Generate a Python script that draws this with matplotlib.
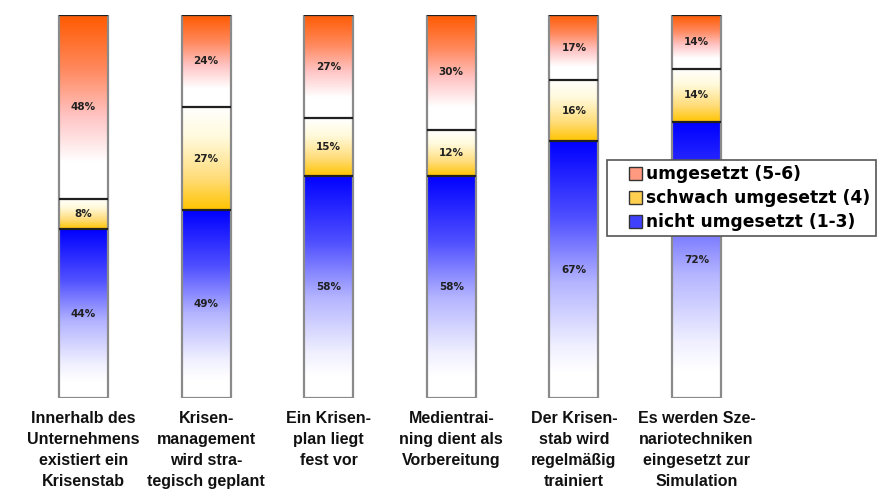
import numpy as np
import matplotlib.pyplot as plt
from matplotlib.colors import LinearSegmentedColormap
from matplotlib.patches import Rectangle
from matplotlib.legend_handler import HandlerPatch

categories = [
    "Innerhalb des\nUnternehmens\nexistiert ein\nKrisenstab",
    "Krisen-\nmanagement\nwird stra-\ntegisch geplant",
    "Ein Krisen-\nplan liegt\nfest vor",
    "Medientrai-\nning dient als\nVorbereitung",
    "Der Krisen-\nstab wird\nregelmäßig\ntrainiert",
    "Es werden Sze-\nnariotechniken\neingesetzt zur\nSimulation",
]
nicht = [44, 49, 58, 58, 67, 72]
schwach = [8, 27, 15, 12, 16, 14]
umgesetzt = [48, 24, 27, 30, 17, 14]
series_labels = ["umgesetzt (5-6)", "schwach umgesetzt (4)", "nicht umgesetzt (1-3)"]

# gradients, listed from top of segment to bottom
cm_top = LinearSegmentedColormap.from_list("top", [
    (0.0, "#ff5a00"), (0.3, "#ff8a60"), (0.55, "#ffc4c4"), (0.8, "#ffffff"), (1.0, "#ffffff")])
cm_mid = LinearSegmentedColormap.from_list("mid", [
    (0.0, "#ffffff"), (0.3, "#fffadc"), (0.7, "#ffdc78"), (1.0, "#ffc400")])
cm_bot = LinearSegmentedColormap.from_list("bot", [
    (0.0, "#0000ff"), (0.3, "#5050ff"), (0.55, "#b4b4ff"), (0.8, "#f0f0ff"), (0.9, "#ffffff"),
    (1.0, "#ffffff")])


def square(legend, orig_handle, xdescent, ydescent, width, height, fontsize):
    s = height
    return Rectangle((-xdescent + width - s, -ydescent + (height - s) / 2), s, s)


fig = plt.figure(figsize=(8.81, 4.92), dpi=100)
ax = fig.add_axes([0, 0.191, 1, 0.7785])
ax.axis("off")

w = 0.40
grad = np.linspace(0, 1, 256).reshape(-1, 1)
x = np.arange(len(categories))

for i in x:
    segs = [(0, nicht[i], cm_bot), (nicht[i], nicht[i] + schwach[i], cm_mid),
            (nicht[i] + schwach[i], 100, cm_top)]
    for y0, y1, cm in segs:
        ax.imshow(cm(grad), extent=[i - w / 2, i + w / 2, y0, y1], aspect="auto",
                  interpolation="bilinear", origin="upper", zorder=1)
        ax.hlines(y1, i - w / 2, i + w / 2, color="#202020", lw=1.6, zorder=3)
        ax.text(i, (y0 + y1) / 2, f"{y1 - y0:.0f}%", ha="center", va="center",
                fontsize=7.5, fontweight="bold", color="#202020", zorder=4)
    ax.add_patch(Rectangle((i - w / 2, 0), w, 100, fill=False, edgecolor="#8a8a8a",
                           lw=1.6, zorder=2))
    ax.text(i, -3.4, categories[i], ha="center", va="top", fontsize=11.5,
            fontweight="bold", family="Liberation Sans", linespacing=1.5, color="#111111")

ax.set_xlim(-0.681, 6.505)
ax.set_ylim(0, 100)

handles = [Rectangle((0, 0), 1, 1, facecolor=c, edgecolor="#333333", lw=1)
           for c in ["#ff9a80", "#ffd050", "#4040ff"]]
leg = fig.legend(handles, series_labels, loc="upper left",
                 bbox_to_anchor=(0.689, 0.675), bbox_transform=fig.transFigure,
                 fancybox=False, framealpha=1, edgecolor="#555555",
                 prop={"weight": "bold", "size": 12.3},
                 handler_map={Rectangle: HandlerPatch(patch_func=square)},
                 handlelength=1.75, handleheight=0.8, handletextpad=0.25,
                 labelspacing=0.36, borderpad=0.3, borderaxespad=0)
leg.get_frame().set_linewidth(1.2)
leg.set_zorder(10)

fig.savefig("out.png", dpi=100)
